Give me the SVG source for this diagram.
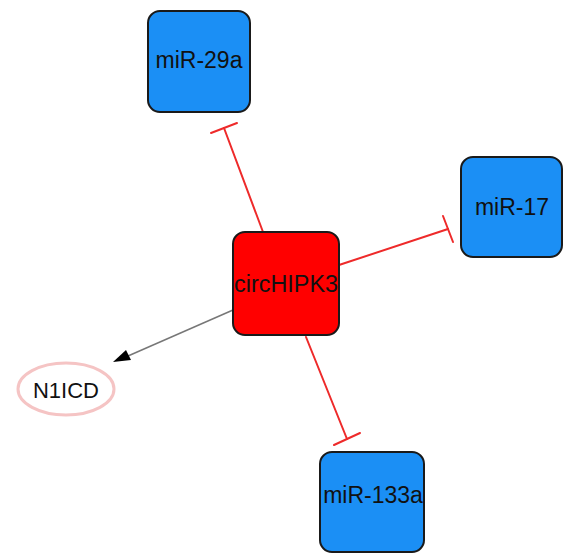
<svg xmlns="http://www.w3.org/2000/svg" width="563" height="554" viewBox="0 0 563 554">
<style>
.box{stroke:#1a1a1a;stroke-width:2}
.mir{fill:#1b8ff5}
.circ{fill:#ff0000}
.lbl{font-family:"Liberation Sans",Arial,sans-serif;font-size:23px;fill:#111;text-anchor:middle}
.inh{stroke:#ee2a2a;stroke-width:2;fill:none;stroke-linecap:round}
.act{stroke:#777;stroke-width:1.5;fill:none}
</style>
<defs>
<marker id="arrow" viewBox="0 0 10 10" refX="10" refY="5" markerWidth="10" markerHeight="10" markerUnits="userSpaceOnUse" orient="auto">
<path d="M0,0 L10,5 L0,10 z" fill="#000"/>
</marker>
</defs>
<rect width="563" height="554" fill="#fff"/>
<g id="connectors">
<line class="inh" x1="263" y1="232" x2="224" y2="128"/>
<line class="inh" x1="211" y1="133" x2="237" y2="123"/>
<line class="inh" x1="339" y1="265" x2="448" y2="229"/>
<line class="inh" x1="443" y1="216" x2="453" y2="242"/>
<line class="inh" x1="306" y1="337" x2="347" y2="439"/>
<line class="inh" x1="334" y1="445" x2="360" y2="433"/>
<line class="act" x1="233" y1="310" x2="128" y2="356"/>
<path d="M113,362 L126,350 L131,360 z" fill="#000"/>
</g>
<g id="miR-29a">
<rect class="box mir" x="148" y="11" width="102" height="101" rx="12"/>
<text class="lbl" x="199" y="68">miR-29a</text>
</g>
<g id="miR-17">
<rect class="box mir" x="461" y="157" width="101" height="100" rx="12"/>
<text class="lbl" x="512" y="215">miR-17</text>
</g>
<g id="circHIPK3">
<rect class="box circ" x="233" y="232" width="106" height="103" rx="12"/>
<text class="lbl" x="286" y="292" textLength="104" lengthAdjust="spacingAndGlyphs">circHIPK3</text>
</g>
<g id="miR-133a">
<rect class="box mir" x="320" y="452" width="104" height="100" rx="12"/>
<text class="lbl" x="373" y="503">miR-133a</text>
</g>
<g id="N1ICD">
<ellipse cx="66" cy="389" rx="48" ry="26" fill="#fff" stroke="#f5c4c4" stroke-width="3"/>
<text class="lbl" x="66" y="398" style="font-size:22px">N1ICD</text>
</g>
</svg>
